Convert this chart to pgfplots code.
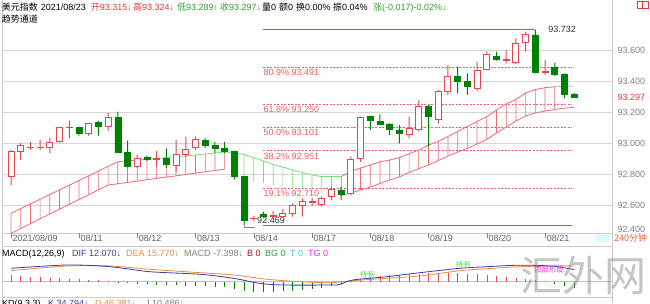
\documentclass[border=0pt]{standalone}
\usepackage{pgfplots}
\pgfplotsset{compat=1.18}
\usepackage{pgfplotstable}
\usepackage{fontspec}
\setmainfont{Liberation Sans}
\newfontfamily\cjk{Noto Sans CJK SC}
\definecolor{cR}{HTML}{E8444E}
\definecolor{cG}{HTML}{008000}
\definecolor{bR}{HTML}{F06A72}
\definecolor{bG}{HTML}{78E078}
\definecolor{fR}{HTML}{EE5C66}
\definecolor{tR}{HTML}{E8333D}
\definecolor{tG}{HTML}{2E9E2E}
\definecolor{gridc}{HTML}{D4D4D4}
\definecolor{lab}{HTML}{808080}
\definecolor{datec}{HTML}{606060}
\definecolor{difc}{HTML}{3A3AA8}
\definecolor{deac}{HTML}{F08A3C}
\definecolor{mag}{HTML}{E030E0}
\definecolor{cyn}{HTML}{30C8D8}
\definecolor{lgr}{HTML}{44DD44}

\pgfplotstableread{
i O H L C
0 92.781 92.955 92.729 92.942
1 92.942 93.000 92.890 92.987
2 92.971 93.008 92.955 92.974
3 92.968 93.019 92.955 92.971
4 92.972 93.034 92.934 93.005
5 93.008 93.105 93.002 93.099
6 93.097 93.144 93.030 93.100
8 93.063 93.131 93.047 93.127
10 93.105 93.195 93.079 93.163
13 92.847 92.923 92.839 92.901
15 92.895 92.948 92.847 92.898
17 92.852 93.019 92.813 92.923
18 92.923 93.039 92.910 92.959
19 92.972 93.041 92.955 93.024
25 92.510 92.529 92.497 92.513
27 92.529 92.561 92.510 92.532
28 92.527 92.574 92.523 92.545
29 92.545 92.611 92.525 92.600
30 92.600 92.643 92.525 92.623
31 92.617 92.645 92.594 92.620
32 92.603 92.655 92.589 92.639
33 92.655 92.718 92.632 92.700
35 92.671 92.912 92.665 92.895
36 92.900 93.170 92.879 93.166
41 93.052 93.170 93.030 93.095
42 93.084 93.277 93.073 93.234
44 93.153 93.342 93.127 93.331
45 93.335 93.503 93.310 93.428
48 93.353 93.525 93.335 93.466
49 93.475 93.589 93.471 93.568
51 93.534 93.600 93.514 93.537
52 93.521 93.675 93.510 93.643
53 93.647 93.718 93.589 93.697
55 93.458 93.535 93.439 93.461
}\upc

\pgfplotstableread{
i O H L C
7 93.099 93.105 93.047 93.063
9 93.131 93.142 93.047 93.105
11 93.163 93.202 92.934 92.937
12 92.940 93.015 92.843 92.847
14 92.905 92.919 92.884 92.895
16 92.901 92.966 92.839 92.865
20 93.019 93.032 92.968 92.984
21 92.984 93.008 92.937 92.966
22 92.963 93.008 92.934 92.948
23 92.945 92.950 92.766 92.787
24 92.784 92.784 92.469 92.503
26 92.542 92.555 92.523 92.527
34 92.692 92.718 92.632 92.668
37 93.170 93.177 93.084 93.148
38 93.137 93.185 93.116 93.121
39 93.123 93.127 93.052 93.090
40 93.084 93.116 92.998 93.063
43 93.239 93.245 92.976 93.170
46 93.432 93.492 93.321 93.395
47 93.395 93.450 93.310 93.363
50 93.561 93.589 93.531 93.542
54 93.697 93.732 93.450 93.456
56 93.488 93.518 93.432 93.445
57 93.445 93.450 93.288 93.316
58 93.315 93.324 93.289 93.297
}\dnc

\pgfplotstableread{
i up lo
0 92.546 92.417
1 92.577 92.448
2 92.607 92.480
3 92.637 92.511
4 92.668 92.542
5 92.697 92.573
6 92.728 92.605
7 92.758 92.635
8 92.788 92.666
9 92.819 92.698
10 92.849 92.729
11 92.879 92.737
12 92.885 92.746
13 92.890 92.754
14 92.895 92.763
15 92.901 92.772
16 92.906 92.780
17 92.912 92.788
18 92.917 92.797
19 92.923 92.806
20 92.929 92.814
21 92.935 92.823
22 92.942 92.831
23 92.939 92.806
24 92.926 92.774
25 92.906 92.750
26 92.884 92.742
27 92.861 92.729
28 92.845 92.718
29 92.826 92.708
30 92.810 92.701
31 92.794 92.697
32 92.783 92.690
33 92.783 92.684
34 92.783 92.661
35 92.816 92.677
36 92.839 92.697
37 92.858 92.716
38 92.879 92.739
39 92.890 92.761
40 92.906 92.781
41 92.931 92.810
42 92.955 92.835
43 92.987 92.858
44 93.010 92.887
45 93.042 92.916
46 93.074 92.942
47 93.106 92.965
48 93.139 92.994
49 93.170 93.023
50 93.213 93.065
51 93.252 93.103
52 93.281 93.142
53 93.323 93.174
54 93.345 93.194
55 93.357 93.206
56 93.363 93.216
57 93.366 93.225
58 93.368 93.230
}\band

\pgfplotstableread{
i m
0 6.7
1 6
2 5
3 4.3
4 4
5 3.3
6 2.7
7 2.3
8 1.7
9 1.7
10 1
11 -0.7
12 -1.7
13 -2.3
14 -2.7
15 -3
16 -3.3
17 -3.7
18 -4
19 -4.3
20 -4.7
21 -5
22 -5.7
23 -7
24 -9
25 -10
26 -10
27 -10
28 -9.5
29 -9
30 -8
31 -7
32 -6
33 -4.5
34 -2.5
35 1
36 3
37 4.5
38 5.5
39 6.5
40 7
41 7.5
42 8
43 8.5
44 9
45 9
46 8.5
47 8
48 7.5
49 6.5
50 6
51 5
52 4
53 3
54 2
55 1
56 -2
57 -4
58 -6
}\hist

\newcommand{\fs}{\fontsize{9}{10}\selectfont}
% overlay axes: same frame as the price axis, values measured from the axis bottom (92.41935)
\pgfplotsset{
  ov/.style={at={(2pt,70pt)}, anchor=south west, scale only axis,
    width=610.7pt, height=233pt, xmin=-0.927, xmax=61.967,
    ymin=0, ymax=1.50323, hide axis, ybar stacked, bar width=#1},
}

\begin{document}
\begin{tikzpicture}[x=1pt,y=1pt]
\path[use as bounding box] (0,0) rectangle (650,303);
\fill[white] (0,0) rectangle (650,303);

% frame lines
\draw[line width=0.6pt, black!20] (2,0) -- (2,303);
\draw[line width=0.6pt, black!20] (2,69.5) -- (612.7,69.5);
\draw[line width=0.6pt, black!20] (2,57) -- (612.7,57);
\draw[line width=0.6pt, black!20] (2,6) -- (612.7,6);
\fill[blue!18!cyan!12] (596,61.3) rectangle (610,69.5);

\begin{axis}[
  at={(2pt,70pt)}, anchor=south west, scale only axis,
  width=610.7pt, height=233pt,
  xmin=-0.927, xmax=61.967, ymin=92.41935, ymax=93.92258,
  axis line style={draw=none},
  clip mode=individual,
  ytick={92.6,92.8,93.0,93.2,93.4,93.6},
  yticklabels={92.600,92.800,93.000,93.200,93.400,93.600},
  ymajorgrids, grid style={gridc, line width=0.6pt},
  yticklabel pos=right,
  yticklabel style={font=\fs, text=lab, anchor=west, inner sep=0pt, xshift=4.8pt},
  ytick style={draw=none},
  xtick={0,7,13,19,25,31,37,43,49,55},
  xticklabels={2021/08/09,08/11,08/12,08/13,08/14,08/17,08/18,08/19,08/20,08/21},
  xtick align=outside, major tick length=5pt,
  xtick style={draw=lab, line width=0.5pt},
  xticklabel style={font=\fs, text=datec, anchor=north west, inner sep=0pt, xshift=1.5pt, yshift=3pt},
]
% fibonacci
\addplot[cR, line width=1pt, forget plot] coordinates {(26,93.732) (54,93.732)};
\addplot[cR, line width=1pt, forget plot] coordinates {(26,92.469) (57.8,92.469)};
\addplot[fR, line width=0.7pt, dash pattern=on 2pt off 1.5pt, forget plot] coordinates {(26,93.491) (57.8,93.491)};
\addplot[fR, line width=0.7pt, dash pattern=on 2pt off 1.5pt, forget plot] coordinates {(26,93.250) (57.8,93.250)};
\addplot[fR, line width=0.7pt, dash pattern=on 2pt off 1.5pt, forget plot] coordinates {(26,93.101) (57.8,93.101)};
\addplot[fR, line width=0.7pt, dash pattern=on 2pt off 1.5pt, forget plot] coordinates {(26,92.951) (57.8,92.951)};
\addplot[fR, line width=0.7pt, dash pattern=on 2pt off 1.5pt, forget plot] coordinates {(26,92.710) (57.8,92.710)};
% channel lines
\addplot[bR, line width=0.8pt, forget plot, restrict x to domain=0:14] table[x=i, y=up] {\band};
\addplot[bG, line width=0.8pt, forget plot, restrict x to domain=14:34] table[x=i, y=up] {\band};
\addplot[bR, line width=0.8pt, forget plot, restrict x to domain=34:56] table[x=i, y=up] {\band};
\addplot[bG, line width=0.8pt, forget plot, restrict x to domain=56:58] table[x=i, y=up] {\band};
\addplot[bR, line width=0.8pt, forget plot, restrict x to domain=0:22] table[x=i, y=lo] {\band};
\addplot[bR, line width=0.8pt, forget plot, restrict x to domain=34:58] table[x=i, y=lo] {\band};
% fib labels
\begin{scope}[every node/.style={font=\fs, text=fR, anchor=west, inner sep=0pt, yshift=-5.5pt}]
\node at (axis cs:26,93.491) {80.9\% 93.491};
\node at (axis cs:26,93.250) {61.8\% 93.250};
\node at (axis cs:26,93.101) {50.0\% 93.101};
\node at (axis cs:26,92.951) {38.2\% 92.951};
\node at (axis cs:26,92.710) {19.1\% 92.710};
\end{scope}
\node[font=\fs, text=black!80, anchor=west, inner sep=0pt, xshift=12.7pt] at (axis cs:54,93.732) {93.732};
\node[font=\fs, text=black!80, anchor=west, inner sep=0pt, xshift=13pt, yshift=5pt] at (axis cs:24,92.469) {92.469};
\node[font=\fs, text=tR, anchor=west, inner sep=0pt, xshift=4.8pt] at (axis cs:61.967,93.297) {93.297};
\end{axis}

% channel hatching (red)
\begin{axis}[ov=0.7pt]
\addplot[draw=none, fill=none, restrict x to domain=0:22] table[x=i, y expr=\thisrow{lo}-92.41935] {\band};
\addplot[draw=none, fill=bR, restrict x to domain=0:22] table[x=i, y expr=\thisrow{up}-\thisrow{lo}] {\band};
\end{axis}
\begin{axis}[ov=0.7pt]
\addplot[draw=none, fill=none, restrict x to domain=34:56] table[x=i, y expr=\thisrow{lo}-92.41935] {\band};
\addplot[draw=none, fill=bR, restrict x to domain=34:56] table[x=i, y expr=\thisrow{up}-\thisrow{lo}] {\band};
\end{axis}
% channel hatching (green)
\begin{axis}[ov=0.7pt]
\addplot[draw=none, fill=none, restrict x to domain=23:33] table[x=i, y expr=\thisrow{lo}-92.41935] {\band};
\addplot[draw=none, fill=bG, restrict x to domain=23:33] table[x=i, y expr=\thisrow{up}-\thisrow{lo}] {\band};
\end{axis}
% red wicks
\begin{axis}[ov=1pt]
\addplot[draw=none, fill=none] table[x=i, y expr=\thisrow{L}-92.41935] {\upc};
\addplot[draw=none, fill=cR] table[x=i, y expr=\thisrow{H}-\thisrow{L}] {\upc};
\end{axis}
% red hollow bodies
\begin{axis}[ov=6pt]
\addplot[draw=none, fill=none] table[x=i, y expr=\thisrow{O}-92.41935] {\upc};
\addplot[draw=cR, fill=white, line width=1pt] table[x=i, y expr=\thisrow{C}-\thisrow{O}] {\upc};
\end{axis}
% green wicks
\begin{axis}[ov=1pt]
\addplot[draw=none, fill=none] table[x=i, y expr=\thisrow{L}-92.41935] {\dnc};
\addplot[draw=none, fill=cG] table[x=i, y expr=\thisrow{H}-\thisrow{L}] {\dnc};
\end{axis}
% green filled bodies
\begin{axis}[ov=6pt]
\addplot[draw=none, fill=none] table[x=i, y expr=\thisrow{C}-92.41935] {\dnc};
\addplot[draw=cG, fill=cG, line width=0.6pt] table[x=i, y expr=\thisrow{O}-\thisrow{C}] {\dnc};
\end{axis}

% low marker
\draw[black!50, line width=0.5pt] (244,76.7) -- (244,76) -- (255,76);

% MACD panel
\begin{axis}[
  at={(2pt,6pt)}, anchor=south west, scale only axis,
  width=610.7pt, height=51pt,
  xmin=-0.927, xmax=61.967, ymin=-15.3, ymax=35.7,
  hide axis, clip mode=individual,
]
\addplot[black!25, line width=0.6pt, forget plot] coordinates {(-0.927,0) (61.967,0)};
\addplot[ycomb, cR, line width=0.6pt, forget plot, restrict y to domain=0:100] table[x=i, y=m] {\hist};
\addplot[ycomb, cG, line width=0.6pt, forget plot, restrict y to domain=-100:0] table[x=i, y=m] {\hist};
\addplot[deac, line width=0.8pt, smooth, forget plot] coordinates {
(0,11) (5.77,15.7) (10.2,15.7) (14.3,12.4) (19.5,9) (22.9,6.7) (26.4,2.4) (29.8,0) (32.9,-1)
(35.2,1) (38.7,3.4) (42.1,5.7) (46.2,11) (49,13) (52.4,15) (55.8,15.8) (58,15.77)};
\addplot[difc, line width=0.8pt, smooth, forget plot] coordinates {
(0,13.4) (5.77,16.7) (10.2,15) (14.3,10) (19.5,7.4) (22.9,3.4) (25.6,-1.6) (28,-3.3) (32.9,-3.3)
(33.9,-2.6) (35.2,1.7) (38.7,5) (42.1,9) (46.2,13.4) (49,15) (52.4,16.5) (55.8,15.5) (58,12.07)};
\node[font=\cjk\fontsize{7.5}{8}\selectfont, text=lgr, inner sep=0pt] at (axis cs:36.7,7) {持有};
\node[font=\cjk\fontsize{7.5}{8}\selectfont, text=lgr, inner sep=0pt] at (axis cs:46.6,17) {持有};
\node[font=\cjk\fontsize{7.5}{8}\selectfont, text=mag, inner sep=0pt] at (axis cs:55.4,12) {顶部形成};
\end{axis}

% right border
\draw[line width=0.6pt, black!22] (612.7,0) -- (612.7,303);

% right labels
\node[font=\fs, text=lab, anchor=west, inner sep=0pt] at (617.5,74) {92.400};
\node[font=\cjk\fontsize{9}{10}\selectfont, text={rgb,255:red,232;green,96;blue,58}, anchor=west, inner sep=0pt] at (614,65) {240分钟};

% title
\begin{scope}[every node/.style={font=\fs, anchor=base west, inner sep=0pt}]
\node at (1.7,292) {{\cjk 美元指数}};
\node at (40.7,292) {2021/08/23};
\node[text=tR] at (90.7,292) {{\cjk 开}93.315↓};
\node[text=tR] at (133,292) {{\cjk 高}93.324↓};
\node[text=tG] at (177,292) {{\cjk 低}93.289↑};
\node[text=tG] at (220,292) {{\cjk 收}93.297↓};
\node at (262,292) {{\cjk 量}0};
\node at (279,292) {{\cjk 额}0};
\node at (296,292) {{\cjk 换}0.00\%};
\node at (333,292) {{\cjk 振}0.04\%};
\node[text=tG] at (373,292) {{\cjk 涨}(-0.017)-0.02\%↓};
\node at (1.7,280) {{\cjk 趋势通道}};
% MACD header
\node at (2,46.5) {MACD(12,26,9)};
\node[text=difc] at (72,46.5) {DIF 12.070↓};
\node[text=deac] at (126,46.5) {DEA 15.770↓};
\node[text=lab] at (184,46.5) {MACD -7.398↓};
\node[text={rgb,255:red,170;green,20;blue,20}] at (247,46.5) {B 0};
\node[text=tG] at (265,46.5) {BG 0};
\node[text=cyn] at (290,46.5) {T 0};
\node[text=mag] at (308,46.5) {TG 0};
% KD header (cut off)
\node at (2,-3.5) {KD(9,3,3)};
\node[text=difc] at (48,-3.5) {K 34.794↓};
\node[text=deac] at (95,-3.5) {D 46.381↓};
\node[text=lab] at (145,-3.5) {J 10.486↓};
\end{scope}
% icon
\draw[tR, line width=0.6pt] (637.5,295) rectangle (648,301.5);
\draw[tR, line width=0.6pt] (642.7,295) -- (642.7,301.5);

% watermark
\node[font=\cjk\fontsize{42}{42}\selectfont, text=black!45, opacity=0.5, inner sep=0pt] at (583,28) {汇外网};
\end{tikzpicture}
\end{document}
